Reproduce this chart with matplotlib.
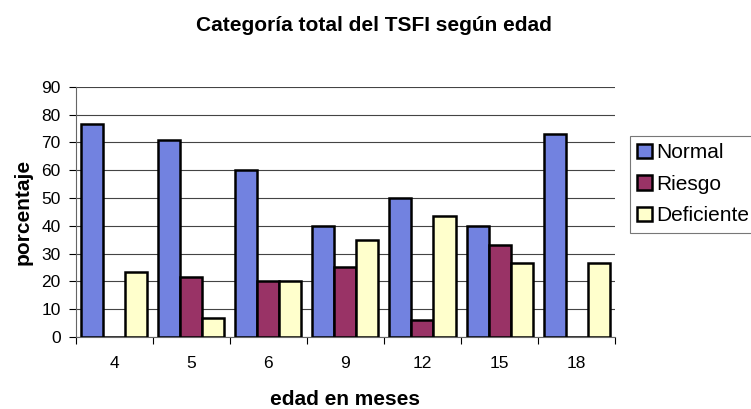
import numpy as np
import matplotlib
matplotlib.use("Agg")
import matplotlib.pyplot as plt
from matplotlib.patches import Patch

plt.rcParams['font.family'] = ['Liberation Sans', 'DejaVu Sans']

edades = ['4', '5', '6', '9', '12', '15', '18']
normal = [76.5, 71, 60, 40, 50, 40, 73]
riesgo = [0, 21.5, 20, 25, 6, 33, 0]
deficiente = [23.5, 7, 20, 35, 43.5, 26.5, 26.5]

series = ['Normal', 'Riesgo', 'Deficiente']
colores = ['#7282e0', '#993366', '#ffffcc']

fig = plt.figure(figsize=(7.51, 4.09), dpi=100)
ax = fig.add_axes([0.101, 0.176, 0.718, 0.612])

x = np.arange(len(edades))
w = 1 / 3.5
for i, vals in enumerate([normal, riesgo, deficiente]):
    v = np.array(vals, dtype=float)
    ax.bar(x + (i - 1) * w, v, w, color=colores[i], edgecolor='black',
           linewidth=1.8, zorder=3)

ax.set_xlim(-0.5, len(edades) - 0.5)
ax.set_ylim(0, 90)
ax.set_yticks(range(0, 91, 10))
ax.set_xticks(x)
ax.set_xticklabels(edades)
ax.set_xticks(np.arange(-0.5, len(edades), 1), minor=True)
ax.tick_params(axis='x', which='major', length=0, pad=14, labelsize=12.5)
ax.tick_params(axis='x', which='minor', length=5, direction='out', width=0.8)
ax.tick_params(axis='y', length=5, direction='out', width=0.8, labelsize=12.5,
               pad=6)
ax.yaxis.grid(True, color='#444444', linewidth=0.8, zorder=0)
ax.spines['top'].set_visible(False)
ax.spines['right'].set_visible(False)
ax.spines['left'].set_color('#666666')
ax.spines['bottom'].set_color('#666666')

ax.set_ylabel('porcentaje', fontsize=15, fontweight='bold', labelpad=6)
ax.set_xlabel('edad en meses', fontsize=15, fontweight='bold', labelpad=13)
fig.text(0.498, 0.937, 'Categoría total del TSFI según edad', ha='center',
         va='center', fontsize=15, fontweight='bold')

handles = [Patch(facecolor=c, edgecolor='black', linewidth=1.8) for c in colores]
leg = fig.legend(handles, series, loc='upper left', bbox_to_anchor=(0.839, 0.667),
                 fontsize=15, frameon=True, fancybox=False, edgecolor='#555555',
                 handlelength=0.7, handleheight=0.7, handletextpad=0.2,
                 borderpad=0.35, labelspacing=0.6, borderaxespad=0)
leg.get_frame().set_linewidth(0.8)

fig.savefig('out.png', dpi=100)
